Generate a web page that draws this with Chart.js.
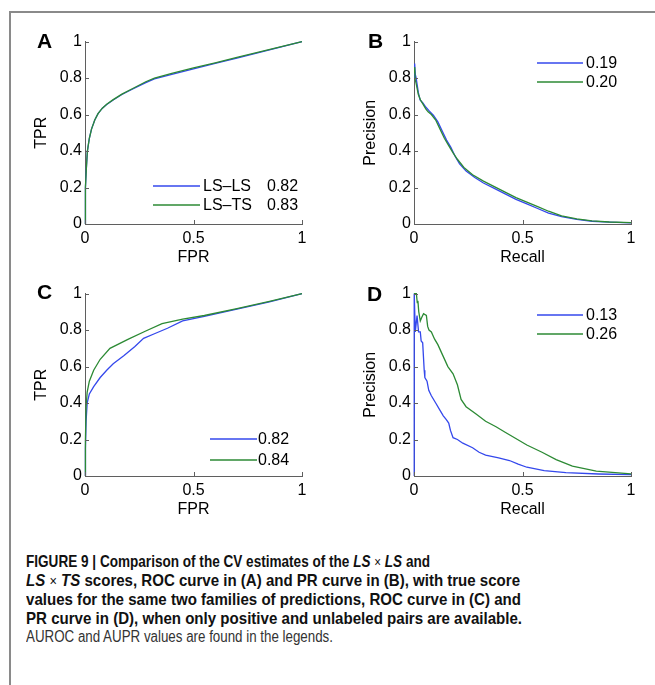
<!DOCTYPE html>
<html><head><meta charset="utf-8">
<script src="https://cdn.jsdelivr.net/npm/chart.js@4"></script>
<style>
html,body{margin:0;padding:0;background:#fff;width:655px;height:685px;overflow:hidden;position:relative;font-family:"Liberation Sans",Arial,sans-serif;}
.frame{position:absolute;left:9px;top:11px;width:700px;height:720px;border-top:2px solid #8a8a8a;border-left:2px solid #8a8a8a;}
.panel{position:absolute;width:300px;height:245px;}
.letter{position:absolute;font-weight:bold;font-size:21px;line-height:21px;color:#000;}
.cap{position:absolute;left:26px;white-space:nowrap;font-size:16.5px;line-height:19px;transform-origin:0 0;color:#111;font-weight:bold;font-family:"Liberation Sans Narrow","Liberation Sans",Arial,sans-serif;}
.cap.n{font-weight:normal;color:#333;font-size:16px;}
.cap .x{font-weight:normal;font-style:normal;font-size:14px;}
</style></head>
<body>
<div class="frame"></div>
<div class="panel" style="left:20px;top:29px"><canvas id="cA" width="300" height="245"></canvas></div>
<div class="panel" style="left:349px;top:29px"><canvas id="cB" width="300" height="245"></canvas></div>
<div class="panel" style="left:20px;top:281px"><canvas id="cC" width="300" height="245"></canvas></div>
<div class="panel" style="left:349px;top:281px"><canvas id="cD" width="300" height="245"></canvas></div>
<div class="letter" style="left:37px;top:30px">A</div>
<div class="letter" style="left:368px;top:30px">B</div>
<div class="letter" style="left:37px;top:281px">C</div>
<div class="letter" style="left:367px;top:283px">D</div>
<div class="cap" data-w="404" style="top:552px">FIGURE 9 | Comparison of the CV estimates of the <i>LS</i> <span class="x">×</span> <i>LS</i> and</div>
<div class="cap" data-w="494" style="top:571px"><i>LS</i> <span class="x">×</span> <i>TS</i> scores, ROC curve in (A) and PR curve in (B), with true score</div>
<div class="cap" data-w="495" style="top:590px">values for the same two families of predictions, ROC curve in (C) and</div>
<div class="cap" data-w="496" style="top:609px">PR curve in (D), when only positive and unlabeled pairs are available.</div>
<div class="cap n" data-w="307" style="top:627px">AUROC and AUPR values are found in the legends.</div>
<script>
// ---- data ----
const xTicks = [0, 0.5, 1];
const yTicks = [0, 0.2, 0.4, 0.6, 0.8, 1];
const xTickLabels = ['0', '0.5', '1'];
const yTickLabels = ['0', '0.2', '0.4', '0.6', '0.8', '1'];
const seriesNames = ['LS–LS', 'LS–TS'];
const aucA = ['0.82', '0.83'];
const auprB = ['0.19', '0.20'];
const aucC = ['0.82', '0.84'];
const auprD = ['0.13', '0.26'];

const rocA_lsls = [[0,0],[0.001,0.1],[0.003,0.2],[0.006,0.3],[0.011,0.4],[0.02,0.47],[0.03,0.52],[0.045,0.57],[0.06,0.605],[0.08,0.635],[0.1,0.655],[0.13,0.68],[0.17,0.71],[0.22,0.74],[0.28,0.775],[0.32,0.795],[0.4,0.82],[0.5,0.85],[0.6,0.88],[0.7,0.91],[0.8,0.94],[0.9,0.97],[1,1]];
const rocA_lsts = [[0,0],[0.001,0.1],[0.003,0.2],[0.006,0.3],[0.011,0.4],[0.02,0.47],[0.03,0.52],[0.045,0.57],[0.06,0.605],[0.08,0.635],[0.1,0.657],[0.13,0.682],[0.17,0.712],[0.22,0.743],[0.28,0.78],[0.32,0.80],[0.4,0.826],[0.5,0.856],[0.6,0.884],[0.7,0.913],[0.8,0.942],[0.9,0.971],[1,1]];
const prB_lsls = [[0,0.8],[0.003,0.88],[0.006,0.82],[0.01,0.8],[0.015,0.76],[0.02,0.72],[0.028,0.68],[0.04,0.665],[0.055,0.64],[0.07,0.62],[0.09,0.595],[0.11,0.56],[0.13,0.51],[0.15,0.46],[0.17,0.42],[0.19,0.37],[0.21,0.33],[0.24,0.29],[0.28,0.255],[0.32,0.225],[0.37,0.195],[0.42,0.165],[0.47,0.135],[0.52,0.11],[0.57,0.085],[0.62,0.06],[0.68,0.04],[0.75,0.025],[0.82,0.015],[0.9,0.01],[1,0.006]];
const prB_lsts = [[0,0.83],[0.003,0.86],[0.006,0.79],[0.01,0.77],[0.015,0.74],[0.02,0.71],[0.03,0.68],[0.04,0.66],[0.055,0.63],[0.065,0.615],[0.08,0.60],[0.1,0.57],[0.12,0.52],[0.14,0.47],[0.16,0.43],[0.18,0.39],[0.2,0.355],[0.23,0.31],[0.27,0.27],[0.32,0.235],[0.37,0.205],[0.42,0.175],[0.47,0.145],[0.52,0.12],[0.57,0.095],[0.62,0.07],[0.68,0.045],[0.75,0.028],[0.82,0.017],[0.9,0.011],[1,0.007]];
const rocC_lsls = [[0,0],[0.002,0.15],[0.005,0.3],[0.01,0.4],[0.02,0.45],[0.04,0.49],[0.07,0.54],[0.1,0.58],[0.13,0.615],[0.18,0.66],[0.23,0.71],[0.27,0.755],[0.32,0.78],[0.38,0.81],[0.45,0.85],[0.55,0.875],[0.7,0.915],[0.85,0.955],[1,1]];
const rocC_lsts = [[0,0],[0.002,0.2],[0.005,0.38],[0.01,0.46],[0.02,0.52],[0.04,0.58],[0.07,0.64],[0.115,0.70],[0.2,0.75],[0.28,0.795],[0.355,0.835],[0.45,0.86],[0.55,0.88],[0.7,0.918],[0.85,0.957],[1,1]];
const prD_lsls = [[0,0],[0.001,1],[0.006,0.79],[0.014,0.88],[0.021,0.79],[0.029,0.79],[0.033,0.74],[0.04,0.73],[0.047,0.58],[0.05,0.54],[0.06,0.52],[0.068,0.47],[0.08,0.44],[0.1,0.40],[0.12,0.36],[0.135,0.33],[0.148,0.31],[0.16,0.29],[0.168,0.25],[0.18,0.21],[0.2,0.20],[0.225,0.18],[0.27,0.155],[0.3,0.13],[0.33,0.115],[0.39,0.10],[0.44,0.085],[0.48,0.065],[0.52,0.048],[0.6,0.03],[0.7,0.018],[0.85,0.011],[1,0.007]];
const prD_lsts = [[0,1],[0.011,1],[0.015,0.95],[0.018,0.96],[0.022,0.9],[0.029,0.85],[0.036,0.87],[0.044,0.89],[0.057,0.88],[0.063,0.82],[0.069,0.80],[0.08,0.79],[0.095,0.75],[0.11,0.72],[0.133,0.66],[0.156,0.60],[0.18,0.56],[0.2,0.50],[0.217,0.42],[0.24,0.38],[0.286,0.34],[0.33,0.30],[0.378,0.27],[0.42,0.24],[0.477,0.20],[0.52,0.17],[0.59,0.13],[0.655,0.09],[0.73,0.054],[0.84,0.027],[1,0.012]];

// ---- styles ----
const BLUE = 'rgb(52,72,236)';
const GREEN = 'rgb(44,138,52)';
const AXIS = '#5f5f5f';
const FONT = '"Liberation Sans", Arial, sans-serif';
const FS = 16;

const inwardTicks = {
  id: 'inwardTicks',
  afterDraw(chart) {
    const {ctx, chartArea: a, scales: {x, y}} = chart;
    ctx.save();
    ctx.strokeStyle = AXIS; ctx.lineWidth = 1;
    ctx.beginPath();
    xTicks.forEach(v => { const px = Math.round(x.getPixelForValue(v)) + 0.5; ctx.moveTo(px, a.bottom); ctx.lineTo(px, a.bottom - 4); });
    yTicks.forEach(v => { const py = Math.round(y.getPixelForValue(v)) + 0.5; ctx.moveTo(a.left, py); ctx.lineTo(a.left + 4, py); });
    ctx.stroke();
    ctx.restore();
  }
};

const miniLegend = {
  id: 'miniLegend',
  afterDraw(chart, args, o) {
    if (!o || !o.texts) return;
    const ctx = chart.ctx, a = chart.chartArea;
    ctx.save();
    ctx.font = FS + 'px ' + FONT;
    ctx.textBaseline = 'middle';
    ctx.textAlign = 'left';
    chart.data.datasets.forEach((ds, i) => {
      const yy = Math.round(a.top + o.top + i * o.gap);
      ctx.strokeStyle = ds.borderColor; ctx.lineWidth = 1.5;
      ctx.beginPath(); ctx.moveTo(a.left + o.x0, yy); ctx.lineTo(a.left + o.x1, yy); ctx.stroke();
      ctx.fillStyle = '#000';
      o.texts[i].forEach((t, j) => ctx.fillText(t, a.left + o.tx[j], yy + 1));
    });
    ctx.restore();
  }
};

function makeChart(id, blueData, greenData, xTitle, yTitle, legend) {
  const toPts = arr => arr.map(p => ({x: p[0], y: p[1]}));
  return new Chart(document.getElementById(id), {
    type: 'scatter',
    data: {
      datasets: [
        {data: toPts(blueData), borderColor: BLUE, backgroundColor: BLUE, showLine: true, pointRadius: 0, borderWidth: 1.3, tension: 0, clip: false, order: 1},
        {data: toPts(greenData), borderColor: GREEN, backgroundColor: GREEN, showLine: true, pointRadius: 0, borderWidth: 1.3, tension: 0, clip: false, order: 0}
      ]
    },
    options: {
      responsive: false, animation: false, devicePixelRatio: 1,
      layout: {padding: {left: 0, top: 10, right: 18, bottom: 0}},
      plugins: {legend: {display: false}, tooltip: {enabled: false}, miniLegend: legend},
      scales: {
        x: {
          type: 'linear', min: 0, max: 1,
          afterBuildTicks: s => { s.ticks = xTicks.map(v => ({value: v})); },
          afterFit: s => { s.height = 50; },
          grid: {display: false, drawTicks: false},
          border: {display: true, color: AXIS, width: 1},
          ticks: {padding: 5, color: '#000', font: {size: FS, family: FONT}, maxRotation: 0, callback: v => xTickLabels[xTicks.indexOf(v)]},
          title: {display: true, text: xTitle, color: '#000', font: {size: FS, family: FONT}, padding: {top: 0, bottom: 7}}
        },
        y: {
          type: 'linear', min: 0, max: 1,
          afterBuildTicks: s => { s.ticks = yTicks.map(v => ({value: v})); },
          afterFit: s => { s.width = 65; },
          grid: {display: false, drawTicks: false},
          border: {display: true, color: AXIS, width: 1},
          ticks: {padding: 3, color: '#000', font: {size: FS, family: FONT}, callback: v => yTickLabels[yTicks.indexOf(v)]},
          title: {display: true, text: yTitle, color: '#000', font: {size: FS, family: FONT}, padding: {top: 12, bottom: 0}}
        }
      }
    },
    plugins: [inwardTicks, miniLegend]
  });
}

makeChart('cA', rocA_lsls, rocA_lsts, 'FPR', 'TPR',
  {top: 144, gap: 19.7, x0: 68, x1: 115, tx: [118, 182], texts: [[seriesNames[0], aucA[0]], [seriesNames[1], aucA[1]]]});
makeChart('cB', prB_lsls, prB_lsts, 'Recall', 'Precision',
  {top: 21, gap: 19, x0: 123, x1: 169, tx: [172], texts: [[auprB[0]], [auprB[1]]]});
makeChart('cC', rocC_lsls, rocC_lsts, 'FPR', 'TPR',
  {top: 145, gap: 21, x0: 125, x1: 172, tx: [173], texts: [[aucC[0]], [aucC[1]]]});
makeChart('cD', prD_lsls, prD_lsts, 'Recall', 'Precision',
  {top: 21.6, gap: 18.7, x0: 123, x1: 169, tx: [172], texts: [[auprD[0]], [auprD[1]]]});

// fit caption lines to their measured widths
document.querySelectorAll('.cap').forEach(el => {
  const w = el.getBoundingClientRect().width;
  const target = parseFloat(el.dataset.w);
  if (w > 0) el.style.transform = 'scaleX(' + (target / w) + ')';
});
</script>
</body></html>
